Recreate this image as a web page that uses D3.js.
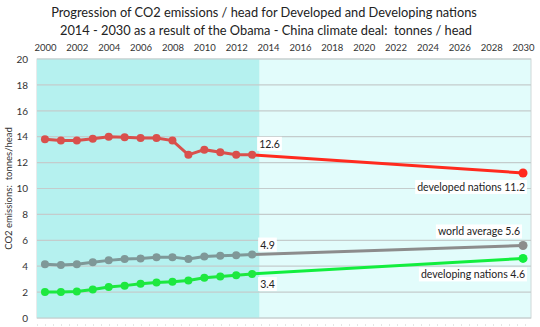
<!DOCTYPE html>
<html>
<head>
<meta charset="UTF-8">
<title>CO2 per head</title>
<script src="https://cdn.jsdelivr.net/npm/d3@7"></script>
<style>
  body { margin: 0; background: #fff; }
  svg { font-family: Lato, "Open Sans", sans-serif; }
  text { white-space: pre; }
</style>
</head>
<body>
<div id="chart"></div>
<script>
// historic years and values (tonnes / head)
var years = [2000, 2001, 2002, 2003, 2004, 2005, 2006, 2007, 2008, 2009, 2010, 2011, 2012, 2013];
var developed = [13.8, 13.7, 13.7, 13.85, 14.0, 13.95, 13.9, 13.9, 13.7, 12.6, 13.0, 12.8, 12.6, 12.6];
var world = [4.15, 4.1, 4.15, 4.3, 4.45, 4.55, 4.6, 4.7, 4.7, 4.55, 4.75, 4.8, 4.85, 4.9];
var developing = [2.0, 2.0, 2.05, 2.2, 2.4, 2.5, 2.65, 2.75, 2.8, 2.9, 3.1, 3.2, 3.3, 3.4];
// projection end points
var projYear = 2030;
var projDeveloped = 11.2, projWorld = 5.6, projDeveloping = 4.6;
var topTicks = d3.range(2000, 2031, 2);
var yTicks = d3.range(0, 21, 2);

var width = 540, height = 327;
var margin = {top: 59, right: 9, bottom: 9, left: 37};

var svg = d3.select("#chart").append("svg")
  .attr("width", width).attr("height", height);

var x = d3.scaleLinear().domain([1999.5, 2030.5]).range([margin.left, width - margin.right]);
var y = d3.scaleLinear().domain([0, 20]).range([height - margin.bottom, margin.top]);

// title
svg.append("text").attr("x", 264).attr("y", 17).attr("text-anchor", "middle")
  .attr("font-size", 12.8).attr("fill", "#222")
  .text("Progression of CO2 emissions / head for Developed and Developing nations");
svg.append("text").attr("x", 266).attr("y", 35).attr("text-anchor", "middle")
  .attr("font-size", 12.8).attr("fill", "#222")
  .text("2014 - 2030 as a result of the Obama - China climate deal:  tonnes / head");

// background shading
svg.append("rect").attr("x", x(1999.5)).attr("y", y(20))
  .attr("width", x(2030.5) - x(1999.5)).attr("height", y(0) - y(20))
  .attr("fill", "#e2fcfb").attr("stroke", "#d0d8d8");
svg.append("rect").attr("x", x(1999.5)).attr("y", y(20))
  .attr("width", x(2013.45) - x(1999.5)).attr("height", y(0) - y(20))
  .attr("fill", "#b5f1ef");

// gridlines
svg.append("g").selectAll("line").data(yTicks).join("line")
  .attr("x1", x(1999.5)).attr("x2", x(2030.5))
  .attr("y1", function(d){ return y(d); }).attr("y2", function(d){ return y(d); })
  .attr("stroke", "#c4cccc").attr("stroke-width", 1.2);

// y axis
var yAxis = d3.axisLeft(y).tickValues(yTicks).tickSize(0).tickPadding(9);
svg.append("g").attr("transform", "translate(" + margin.left + ",0)").call(yAxis)
  .call(function(g){ g.select(".domain").remove(); })
  .selectAll("text").attr("font-size", 10).attr("fill", "#333")
  .attr("font-family", "Lato, sans-serif");

svg.append("text")
  .attr("transform", "translate(12," + y(10) + ") rotate(-90)")
  .attr("text-anchor", "middle").attr("font-size", 9.5).attr("fill", "#333")
  .text("CO2 emissions:  tonnes/head");

// top axis
var xAxis = d3.axisTop(x).tickValues(topTicks).tickFormat(d3.format("d")).tickSize(0).tickPadding(8);
svg.append("g").attr("transform", "translate(0," + margin.top + ")").call(xAxis)
  .call(function(g){ g.select(".domain").remove(); })
  .selectAll("text").attr("font-size", 9.5).attr("fill", "#333")
  .attr("font-family", "Lato, sans-serif");

// dotted bottom line
svg.append("line").attr("x1", x(1999.5)).attr("x2", x(2030.5))
  .attr("y1", 325).attr("y2", 325)
  .attr("stroke", "#ccc").attr("stroke-dasharray", "1,7");

var line = d3.line().x(function(d){ return x(d[0]); }).y(function(d){ return y(d[1]); });

function series(vals, endVal, histColor, projColor) {
  var hist = years.map(function(yr, i){ return [yr, vals[i]]; });
  var last = hist[hist.length - 1];
  svg.append("path").datum([last, [projYear, endVal]]).attr("d", line)
    .attr("fill", "none").attr("stroke", projColor).attr("stroke-width", 3);
  svg.append("circle").attr("cx", x(projYear)).attr("cy", y(endVal)).attr("r", 4.5)
    .attr("fill", projColor);
  svg.append("path").datum(hist).attr("d", line)
    .attr("fill", "none").attr("stroke", histColor).attr("stroke-width", 3);
  svg.append("g").selectAll("circle").data(hist).join("circle")
    .attr("cx", function(d){ return x(d[0]); }).attr("cy", function(d){ return y(d[1]); })
    .attr("r", 4).attr("fill", histColor);
}

series(developed, projDeveloped, "#d9504c", "#ff2a1e");
series(world, projWorld, "#7f9898", "#8c8c8c");
series(developing, projDeveloping, "#1de83f", "#12ee3e");

// labels with white background
function label(txt, lx, ly, anchor) {
  var t = svg.append("text").attr("x", lx).attr("y", ly)
    .attr("text-anchor", anchor).attr("font-size", 10.5).attr("fill", "#222").text(txt);
  var b = t.node().getBBox();
  svg.insert("rect", function(){ return t.node(); })
    .attr("x", b.x - 2).attr("y", b.y - 1).attr("width", b.width + 4).attr("height", b.height + 2)
    .attr("fill", "#fff");
}

label(developed[developed.length - 1].toFixed(1), x(2013) + 7, y(developed[13]) - 7, "start");
label("developed nations " + projDeveloped.toFixed(1), x(projYear) + 2, y(projDeveloped) + 18, "end");
label("world average " + projWorld.toFixed(1), x(projYear) - 3, y(projWorld) - 10, "end");
label(world[world.length - 1].toFixed(1), x(2013) + 8, y(world[13]) - 6, "start");
label(developing[developing.length - 1].toFixed(1), x(2013) + 8, y(developing[13]) + 14, "start");
label("developing nations " + projDeveloping.toFixed(1), x(projYear) + 2, y(projDeveloping) + 20, "end");
</script>
</body>
</html>
